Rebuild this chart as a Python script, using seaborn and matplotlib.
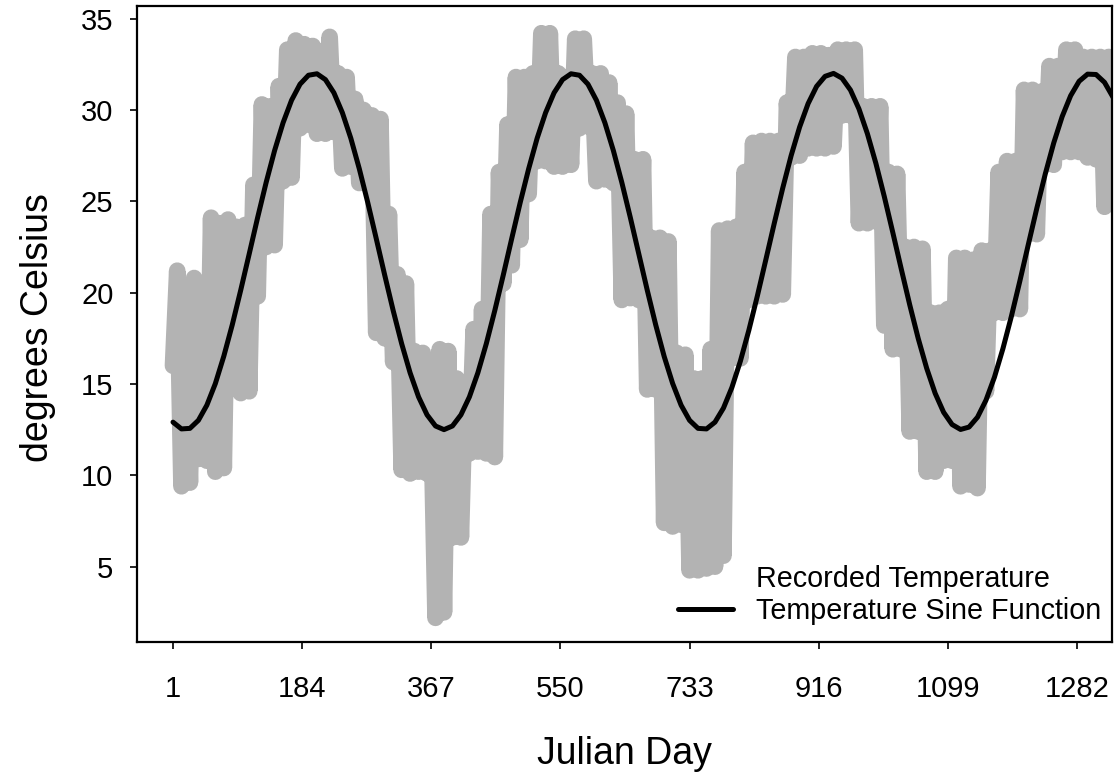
import numpy as np
import matplotlib
matplotlib.use("Agg")
import matplotlib.pyplot as plt
import seaborn as sns
from matplotlib.lines import Line2D

# recorded temperature, every 6 days from day 1
recorded_temp = [
    16.0, 21.2, 9.4, 16.6, 9.6, 20.8, 10.9, 20.2, 10.8, 24.1,
    10.2, 23.8, 10.4, 24.0, 16.5, 23.6, 14.5, 23.7, 14.6, 25.9,
    19.8, 30.3, 22.5, 30.2, 22.6, 31.3, 26.1, 33.3, 26.3, 33.8,
    29.0, 33.6, 29.2, 33.5, 28.7, 33.2, 28.7, 34.0, 28.8, 32.0,
    26.8, 31.8, 26.9, 30.6, 26.0, 30.0, 25.9, 29.7, 17.8, 29.5,
    17.5, 24.3, 16.2, 21.0, 10.3, 20.5, 10.1, 16.8, 10.2, 16.7,
    10.1, 13.5, 2.2, 16.9, 2.5, 16.8, 6.6, 15.3, 6.6, 15.0,
    11.2, 18.0, 11.3, 19.1, 11.2, 24.3, 11.0, 26.6, 20.5, 29.2,
    21.5, 31.8, 22.9, 31.8, 25.4, 32.0, 27.2, 34.2, 27.2, 34.2,
    26.9, 32.0, 26.9, 31.8, 27.0, 33.9, 29.0, 33.9, 29.1, 32.0,
    26.1, 32.0, 26.2, 31.5, 26.0, 30.4, 19.6, 29.8, 19.7, 27.3,
    19.6, 27.3, 14.7, 23.0, 14.7, 23.0, 7.4, 22.8, 7.2, 16.7,
    7.3, 16.6, 4.8, 15.3, 4.8, 15.3, 4.9, 16.9, 5.0, 23.4,
    5.6, 23.5, 16.4, 23.6, 16.4, 26.6, 19.6, 28.2, 19.8, 28.3,
    19.8, 28.3, 19.8, 28.3, 19.9, 30.4, 27.4, 32.9, 27.5, 32.9,
    27.9, 33.1, 27.9, 33.1, 27.9, 33.0, 28.0, 33.3, 29.7, 33.3,
    29.7, 33.3, 23.8, 30.2, 23.8, 30.2, 23.9, 30.2, 18.2, 26.6,
    16.9, 26.5, 16.9, 22.5, 12.4, 22.5, 12.4, 22.4, 10.2, 18.9,
    10.2, 18.9, 10.8, 19.1, 10.8, 21.9, 9.4, 21.9, 9.5, 21.8,
    9.3, 22.3, 14.6, 22.3, 18.9, 26.6, 18.9, 27.2, 19.1, 27.2,
    19.1, 31.1, 23.2, 31.1, 23.2, 31.0, 27.0, 32.4, 27.0, 32.4,
    27.7, 33.3, 27.7, 33.3, 27.7, 32.9, 27.4, 32.9, 27.3, 32.9,
    24.7, 32.9,
]

# fitted sine curve, every 12 days from day 1
sine_temp = [
    12.91, 12.54, 12.57, 13.01, 13.84, 15.02, 16.52, 18.24, 20.14, 22.12,
    24.12, 26.03, 27.78, 29.30, 30.53, 31.41, 31.90, 31.98, 31.66, 30.94,
    29.85, 28.45, 26.78, 24.93, 22.96, 20.96, 19.02, 17.21, 15.61, 14.29,
    13.31, 12.70, 12.50, 12.70, 13.31, 14.29, 15.61, 17.21, 19.02, 20.96,
    22.96, 24.93, 26.78, 28.45, 29.85, 30.94, 31.66, 31.98, 31.90, 31.41,
    30.53, 29.30, 27.78, 26.03, 24.12, 22.13, 20.14, 18.24, 16.51, 15.03,
    13.84, 13.01, 12.57, 12.54, 12.91, 13.68, 14.81, 16.25, 17.94, 19.81,
    21.79, 23.79, 25.72, 27.51, 29.07, 30.35, 31.29, 31.84, 32.00, 31.74,
    31.09, 30.06, 28.70, 27.08, 25.25, 23.29, 21.29, 19.33, 17.49, 15.86,
    14.49, 13.45, 12.78, 12.51, 12.64, 13.18, 14.11, 15.37, 16.93, 18.70,
    20.63, 22.63, 24.61, 26.49, 28.19, 29.64, 30.78, 31.57, 31.96, 31.94,
    31.51, 30.70,
]

x_ticks = [1, 184, 367, 550, 733, 916, 1099, 1282]
y_ticks = [5, 10, 15, 20, 25, 30, 35]

rec_days = np.arange(len(recorded_temp)) * 6 + 1
sine_days = np.arange(len(sine_temp)) * 12 + 1

sns.set_theme(style="white")
plt.rcParams["font.family"] = ["Liberation Sans", "DejaVu Sans"]

fig = plt.figure(figsize=(11.2, 7.8), dpi=100)
ax = fig.add_axes([137 / 1120, 1 - 642 / 780, 975 / 1120, 636 / 780])

sns.lineplot(x=rec_days, y=recorded_temp, ax=ax, color="#b3b3b3",
             linewidth=12, solid_capstyle="round", solid_joinstyle="round",
             sort=False, estimator=None)
sns.lineplot(x=sine_days, y=sine_temp, ax=ax, color="black",
             linewidth=3.6, sort=False, estimator=None,
             solid_joinstyle="round")

ax.set_xlim(-50, 1331.6)
ax.set_ylim(0.876, 35.69)
ax.set_xticks(x_ticks)
ax.set_yticks(y_ticks)

for side in ["left", "right", "top", "bottom"]:
    ax.spines[side].set_visible(True)
    ax.spines[side].set_color("black")
    ax.spines[side].set_linewidth(1.6)

ax.tick_params(axis="both", direction="out", length=5, width=1.2,
               color="black", labelsize=21, labelcolor="black")
ax.tick_params(axis="x", pad=19, bottom=True)
ax.tick_params(axis="y", pad=12, left=True)

ax.set_xlabel("Julian Day", fontsize=27, color="black")
ax.set_ylabel("degrees Celsius", fontsize=27, color="black")
ax.xaxis.set_label_coords(0.5, -0.148)
ax.yaxis.set_label_coords(-0.083, 0.495)

handles = [
    Line2D([], [], color="none", linewidth=0),
    Line2D([], [], color="black", linewidth=3.6),
]
labels = ["Recorded Temperature", "Temperature Sine Function"]
leg = ax.legend(handles, labels, loc="upper left", bbox_to_anchor=(0.555, 0.121),
                frameon=False, fontsize=20.7, handlelength=1.9, handletextpad=0.8,
                labelspacing=0.14, borderpad=0, borderaxespad=0)
for txt in leg.get_texts():
    txt.set_color("black")

fig.savefig("out.png", dpi=100)
plt.close(fig)
